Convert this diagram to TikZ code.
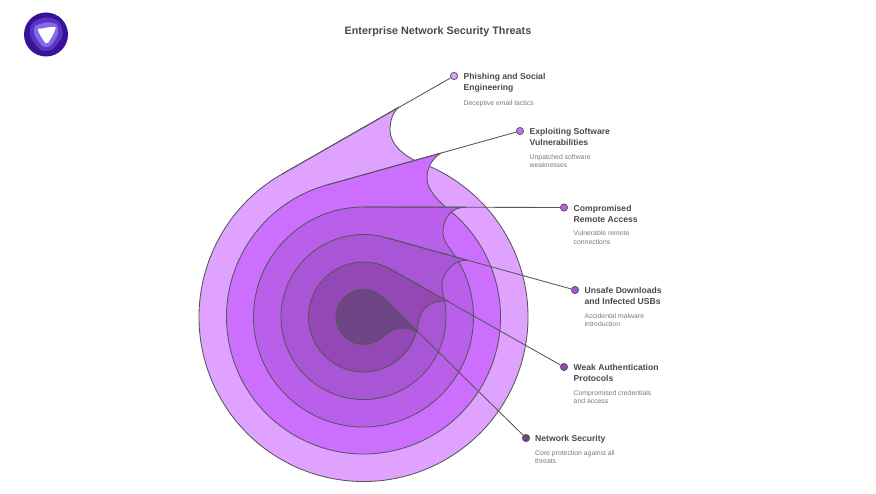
\documentclass[tikz,border=0pt]{standalone}
\usepackage{fontspec}
\setmainfont{Liberation Sans}
\usetikzlibrary{calc}
\definecolor{ca}{HTML}{E0A2FF}
\definecolor{cb}{HTML}{CC6FFF}
\definecolor{cc}{HTML}{B95FE9}
\definecolor{cd}{HTML}{A856D6}
\definecolor{ce}{HTML}{9448B5}
\definecolor{cf}{HTML}{704585}
\definecolor{ln}{HTML}{55555A}
\definecolor{ttl}{HTML}{4A4A4A}
\definecolor{dsc}{HTML}{7A7A7A}
\definecolor{logoa}{RGB}{58,18,150}
\definecolor{logob}{RGB}{88,52,195}
\definecolor{logoc}{RGB}{132,104,238}
\tikzset{
  ring/.style={draw=ln,line width=0.85pt,line join=round},
  conn/.style={draw=ln,line width=0.85pt},
  dotnode/.style={circle,draw=ln,line width=0.8pt,minimum size=7.2pt,inner sep=0pt},
  headnode/.style={anchor=north west,inner sep=0pt,align=left,text=ttl,font=\fontsize{8.6}{11}\selectfont\bfseries},
  descnode/.style={anchor=north west,inner sep=0pt,align=left,text=dsc,font=\fontsize{6.85}{8.5}\selectfont},
}
\begin{document}
\begin{tikzpicture}[x=1pt,y=1pt]
\useasboundingbox (0,0) rectangle (876,493);
\fill[white] (0,0) rectangle (876,493);
% logo
\fill[logoa] (46,493-34.5) circle (22);
\fill[logob] plot[smooth cycle,tension=0.9] coordinates {(30,493-30) (38,493-19.5) (54,493-19) (62,493-29) (59,493-42) (47,493-51) (35,493-44)};
\fill[logoc] plot[smooth cycle,tension=0.9] coordinates {(34,493-30) (40,493-24) (53,493-23) (58,493-29) (55,493-40) (47,493-47) (39,493-42)};
\fill[white] plot[smooth cycle,tension=0.8] coordinates {(38,493-30) (42,493-28.5) (54,493-27) (55,493-30) (50,493-40) (47,493-43) (44,493-41)};
\node[font=\fontsize{10.8}{13}\selectfont\bfseries,text=ttl,inner sep=0pt] (title) at (438,493-32) {Enterprise Network Security Threats};
\coordinate (c) at (363.5,493-317);
\node[dotnode,fill=ca] (d1) at (454,493-76) {};
\node[dotnode,fill=cb] (d2) at (520,493-131) {};
\node[dotnode,fill=cc] (d3) at (564,493-207.5) {};
\node[dotnode,fill=cd] (d4) at (575,493-290) {};
\node[dotnode,fill=ce] (d5) at (564,493-367) {};
\node[dotnode,fill=cf] (d6) at (526,493-438) {};
\coordinate (t1) at ($(c)+(119.7:164.5)$);
\coordinate (t2) at ($(c)+(105.6:137)$);
\coordinate (t3) at ($(c)+(90:110)$);
\coordinate (t4) at ($(c)+(74.5:82.5)$);
\coordinate (t5) at ($(c)+(60.6:55)$);
\coordinate (t6) at ($(c)+(45.5:27.5)$);
% ring 1
\draw[ring,fill=ca] (t1) arc[start angle=119.7,end angle=431.2,radius=164.5]
  .. controls (405,493-156) and (390,493-145) .. (390,493-130)
  .. controls (390,493-120) and (393,493-112) .. (399,493-107) -- cycle;
\draw[conn] (t1) -- (d1);
% ring 2
\draw[ring,fill=cb] (t2) arc[start angle=105.6,end angle=412.8,radius=137]
  .. controls (438,493-200) and (427,493-190) .. (427,493-178)
  .. controls (427,493-167) and (433,493-158) .. (441,493-153) -- cycle;
\draw[conn] (t2) -- (d2);
% ring 3
\draw[ring,fill=cc] (t3) arc[start angle=90,end angle=393,radius=110]
  .. controls (450,493-248) and (443,493-242) .. (443,493-232)
  .. controls (443,493-218) and (452,493-207) .. (466,493-207) -- cycle;
\draw[conn] (t3) -- (d3);
% ring 4
\draw[ring,fill=cd] (t4) arc[start angle=74.5,end angle=369.7,radius=82.5]
  .. controls (444,493-297) and (442,493-292) .. (442,493-285)
  .. controls (442,493-272) and (456,493-258) .. (468,493-260.5) -- cycle;
\draw[conn] (t4) -- (d4);
% ring 5
\draw[ring,fill=ce] (t5) arc[start angle=60.6,end angle=343.4,radius=55]
  .. controls (418,493-331) and (417.5,493-328) .. (418,493-325)
  .. controls (420,493-307) and (432,493-300) .. (447,493-301) -- cycle;
\draw[conn] (t5) -- (d5);
% ring 6
\draw[ring,fill=cf] (t6) arc[start angle=45.5,end angle=314,radius=27.5]
  .. controls (389,493-333) and (393,493-328) .. (400,493-328)
  .. controls (406,493-328) and (412,493-329) .. (417,493-332) -- cycle;
\draw[conn] (t6) -- (d6);
% labels
\node[headnode] (h1) at (463.5,493-71.8) {\strut Phishing and Social\\\strut Engineering};
\node[descnode] (s1) at (463.5,493-99.3) {\strut Deceptive email tactics};
\node[headnode] (h2) at (529.5,493-126.8) {\strut Exploiting Software\\\strut Vulnerabilities};
\node[descnode] (s2) at (529.5,493-153.3) {\strut Unpatched software\\\strut weaknesses};
\node[headnode] (h3) at (573.5,493-203.8) {\strut Compromised\\\strut Remote Access};
\node[descnode] (s3) at (573.5,493-229.8) {\strut Vulnerable remote\\\strut connections};
\node[headnode] (h4) at (584.5,493-285.8) {\strut Unsafe Downloads\\\strut and Infected USBs};
\node[descnode] (s4) at (584.5,493-312.3) {\strut Accidental malware\\\strut introduction};
\node[headnode] (h5) at (573.5,493-362.8) {\strut Weak Authentication\\\strut Protocols};
\node[descnode] (s5) at (573.5,493-389.3) {\strut Compromised credentials\\\strut and access};
\node[headnode] (h6) at (535,493-433.8) {\strut Network Security};
\node[descnode] (s6) at (535,493-449.3) {\strut Core protection against all\\\strut threats};
\end{tikzpicture}
\end{document}
